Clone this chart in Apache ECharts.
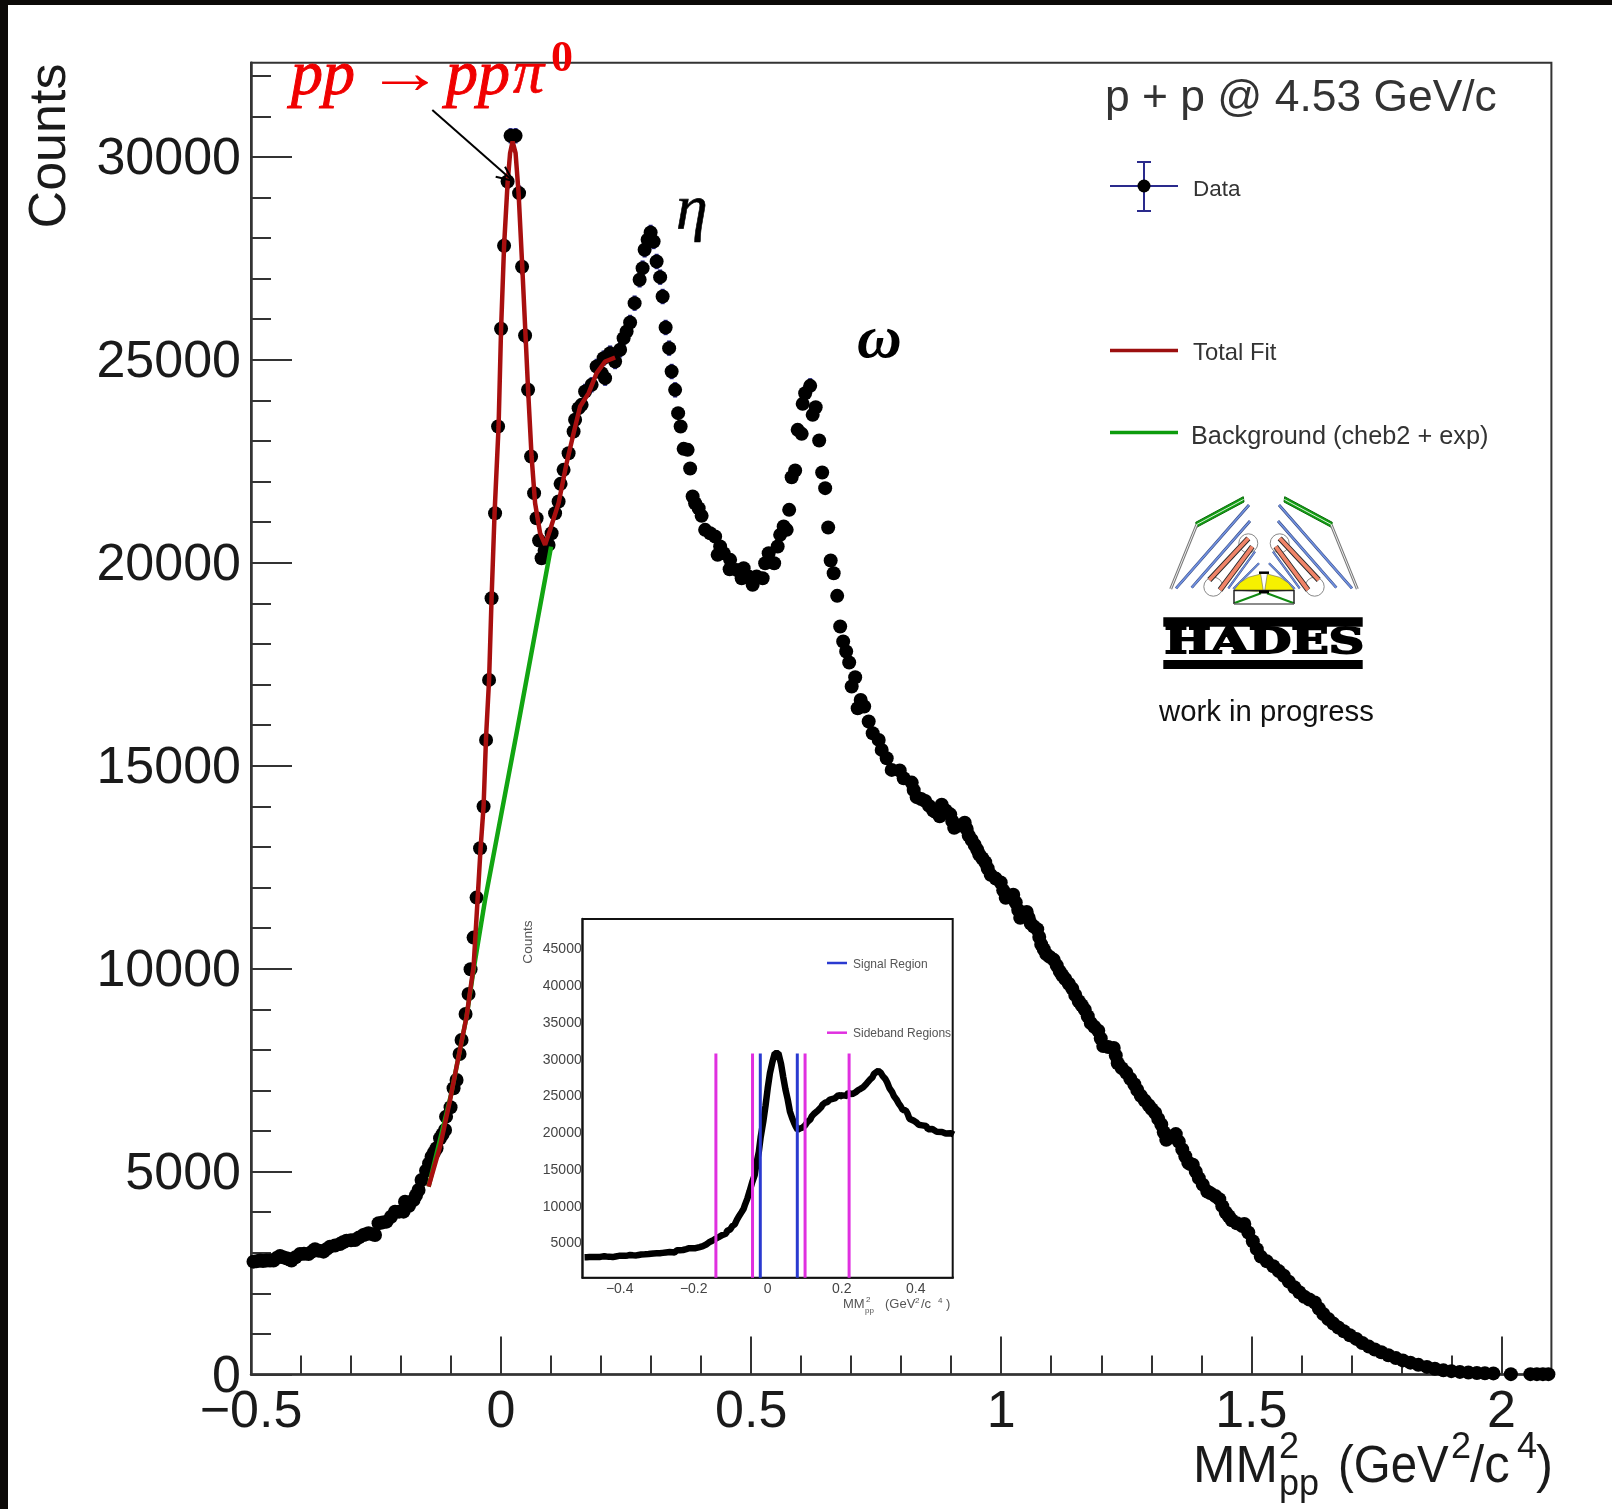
<!DOCTYPE html>
<html>
<head>
<meta charset="utf-8">
<title>MM2pp</title>
<style>
    html, body { margin: 0; padding: 0; background: #fff; }
    #chart { width: 1612px; height: 1509px; }
</style>
<script src="https://cdn.jsdelivr.net/npm/echarts@6/dist/echarts.min.js"></script>
</head>
<body>
<div id="chart"></div>
<script>
// data points
const dataX = [
    -0.495, -0.482, -0.469, -0.455, -0.442, -0.429, -0.419, -0.402, -0.385, -0.372,
    -0.355, -0.342, -0.322, -0.309, -0.292, -0.275, -0.265, -0.252, -0.245, -0.229,
    -0.212, -0.195, -0.192, -0.175, -0.165, -0.159, -0.150, -0.139, -0.129, -0.122,
    -0.112, -0.110, -0.101, -0.095, -0.089, -0.083, -0.079, -0.071, -0.065, -0.061,
    -0.055, -0.049, -0.042, -0.035, -0.030, -0.024, -0.019, -0.012, -0.006, 0.000,
    0.006, 0.013, 0.019, 0.029, 0.036, 0.042, 0.048, 0.054, 0.060, 0.066,
    0.071, 0.076, 0.081, 0.087, 0.095, 0.101, 0.108, 0.115, 0.119, 0.125,
    0.135, 0.145, 0.148, 0.155, 0.161, 0.168, 0.181, 0.191, 0.201, 0.205,
    0.208, 0.218, 0.228, 0.238, 0.245, 0.251, 0.258, 0.267, 0.277, 0.283,
    0.287, 0.293, 0.299, 0.305, 0.311, 0.318, 0.323, 0.329, 0.336, 0.341,
    0.348, 0.354, 0.359, 0.365, 0.373, 0.378, 0.383, 0.388, 0.395, 0.401,
    0.408, 0.418, 0.428, 0.433, 0.438, 0.445, 0.457, 0.458, 0.471, 0.481,
    0.485, 0.495, 0.503, 0.511, 0.523, 0.528, 0.535, 0.546, 0.553, 0.558,
    0.565, 0.571, 0.576, 0.581, 0.588, 0.593, 0.601, 0.603, 0.608, 0.618,
    0.623, 0.629, 0.636, 0.642, 0.648, 0.654, 0.659, 0.665, 0.672, 0.678,
    0.684, 0.690, 0.696, 0.701, 0.708, 0.713, 0.719, 0.726, 0.735, 0.743,
    0.755, 0.761, 0.771, 0.781, 0.797, 0.805, 0.821, 0.831, 0.848, 0.864,
    0.877, 0.881, 0.898, 0.906, 0.927, 0.935, 0.947, 0.956, 0.968, 0.979,
    0.999, 1.009, 1.024, 1.034, 1.038, 1.051, 1.059, 1.072, 1.080, 1.090,
    1.105, 1.117, 1.128, 1.142, 1.155, 1.167, 1.179, 1.194, 1.204, 1.225,
    1.233, 1.250, 1.266, 1.279, 1.295, 1.308, 1.320, 1.330, 1.349, 1.362,
    1.374, 1.383, 1.395, 1.412, 1.436, 1.449, 1.461, 1.482, 1.486, 1.503,
    1.519, 1.544, 1.565, 1.586, 1.606, 1.627, 1.644, 1.664, 1.685, 1.710,
    1.735, 1.760, 1.789, 1.818, 1.851, 1.884, 1.917, 1.951, 1.984, 2.019,
    2.058, 2.071, 2.083, 2.094,
];
const dataY = [
    2783, 2808, 2808, 2808, 2922, 2865, 2808, 2972, 2972, 3087,
    3029, 3152, 3218, 3300, 3317, 3440, 3481, 3440, 3727, 3768,
    4015, 4015, 4261, 4302, 4549, 4795, 5025, 5370, 5575, 5822,
    6027, 6355, 6586, 7054, 7259, 7900, 8245, 8885, 9378, 9986,
    10766, 11752, 12967, 13994, 15637, 17115, 19127, 21222, 23358, 25764,
    27809, 29394, 30520, 30520, 29107, 27292, 25600, 24261, 22618, 21715,
    21098, 20548, 20113, 20300, 20441, 20729, 21222, 21510, 21945, 22290,
    22700, 23234, 23522, 23810, 23891, 24220, 24384, 24836, 24672, 25041,
    24549, 25165, 24959, 25247, 25534, 25698, 25920, 26396, 26971, 27259,
    27710, 27957, 28138, 27916, 27423, 27037, 26560, 25797, 25288, 24712,
    24260, 23686, 23357, 22807, 22782, 22322, 21632, 21468, 21345, 21156,
    20811, 20729, 20647, 20195, 20400, 20236, 19842, 20072, 19825, 19620,
    19866, 19661, 19456, 19661, 19620, 19990, 20236, 19990, 20400, 20688,
    20893, 20811, 21304, 22108, 22273, 23275, 23176, 23916, 24178, 24359,
    23644, 23833, 23012, 22224, 21838, 20869, 20055, 19743, 19185, 18429,
    18060, 17813, 17542, 16951, 17181, 16417, 16622, 16458, 16088, 15801,
    15637, 15390, 15185, 14897, 14881, 14692, 14585, 14226, 14132, 13896,
    13755, 14038, 13802, 13472, 13594, 13283, 13047, 12812, 12623, 12312,
    12123, 11746, 11821, 11444, 11255, 11397, 11114, 10972, 10595, 10359,
    10218, 9934, 9746, 9510, 9199, 8991, 8661, 8472, 8095, 8048,
    7670, 7435, 7152, 6869, 6633, 6444, 6161, 5784, 5925, 5548,
    5218, 5171, 4841, 4510, 4322, 3992, 3803, 3662, 3709, 3284,
    2907, 2671, 2435, 2152, 1917, 1775, 1492, 1256, 1067, 879,
    690, 549, 407, 294, 190, 105, 67, 39, 30, 11,
    11, 11, 11, 11,
];
// further points read along the parts where the markers merge into a solid band
const bandX = [
    -0.489, -0.476, -0.462, -0.449, -0.436, -0.424, -0.411, -0.394, -0.378, -0.364,
    -0.349, -0.332, -0.316, -0.300, -0.284, -0.270, -0.258, -0.237, -0.220, -0.204,
    -0.184, -0.170, -0.144, -0.134, -0.117,
    0.825, 0.840, 0.856, 0.870, 0.889, 0.902, 0.916, 0.931, 0.941, 0.952,
    0.962, 0.973, 0.989, 1.004, 1.016, 1.029, 1.045, 1.055, 1.065, 1.076,
    1.085, 1.097, 1.111, 1.122, 1.135, 1.148, 1.161, 1.173, 1.186, 1.199,
    1.214, 1.229, 1.241, 1.258, 1.272, 1.287, 1.301, 1.314, 1.325, 1.339,
    1.355, 1.368, 1.378, 1.389, 1.403, 1.418, 1.428, 1.442, 1.455, 1.471,
    1.494, 1.511, 1.531, 1.555, 1.575, 1.596, 1.616, 1.635, 1.654, 1.674,
    1.697, 1.722, 1.747, 1.774, 1.803, 1.834, 1.867, 1.900, 1.934, 1.967,
];
const bandY = [
    2790, 2800, 2810, 2870, 2890, 2840, 2890, 2975, 3030, 3050,
    3090, 3180, 3260, 3310, 3380, 3460, 3460, 3750, 3890, 4015,
    4160, 4420, 5200, 5470, 5920,
    14400, 14180, 14010, 13850, 13900, 13640, 13530, 13440, 13170, 12930,
    12720, 12470, 12220, 11930, 11780, 11630, 11330, 11250, 11040, 10780,
    10480, 10290, 10080, 9840, 9630, 9350, 9100, 8830, 8570, 8280,
    8070, 7860, 7550, 7290, 7010, 6750, 6540, 6300, 5970, 5850,
    5740, 5380, 5190, 5000, 4680, 4470, 4400, 4150, 3900, 3730,
    3500, 3090, 2790, 2550, 2290, 2030, 1850, 1630, 1370, 1160,
    970, 780, 620, 475, 350, 240, 145, 85, 52, 34,
];
const errHalf = 190;
const errFrom = 24000;

// total fit
const fitX = [
    -0.145, -0.122, -0.102, -0.089, -0.069, -0.055, -0.047, -0.041, -0.035, -0.030,
    -0.024, -0.019, -0.013, -0.005, 0.000, 0.006, 0.013, 0.018, 0.023, 0.029,
    0.035, 0.042, 0.049, 0.054, 0.061, 0.068, 0.078, 0.088, 0.098, 0.115,
    0.131, 0.145, 0.158, 0.175, 0.191, 0.208, 0.228,
];
const fitY = [
    4631, 5616, 6766, 7588, 8820, 10051, 11694, 12967, 13994, 15719,
    17115, 19127, 21222, 23358, 25764, 27809, 29353, 30092, 30380, 30092,
    29107, 27382, 25575, 24261, 22618, 21469, 20729, 20442, 20811, 21469,
    22454, 23193, 23850, 24179, 24672, 24959, 25058,
];

// background fit
const bgX = [-0.145, -0.100, -0.069, -0.055, -0.032, 0.031, 0.100];
const bgY = [4631, 6900, 8820, 9970, 11694, 15800, 20400];

// inset region edges
const signalEdges = [-0.020, 0.080];
const sidebandEdges = [-0.140, -0.041, 0.101, 0.220];
const edgeTop = 30500;

const mainXMajor = [-0.5, 0, 0.5, 1, 1.5, 2];
const mainXMinor = [-0.4, -0.3, -0.2, -0.1, 0.1, 0.2, 0.3, 0.4, 0.6, 0.7, 0.8, 0.9, 1.1, 1.2, 1.3, 1.4, 1.6, 1.7, 1.8, 1.9];
const mainYMajor = [0, 5000, 10000, 15000, 20000, 25000, 30000];
const mainYMinor = [1000, 2000, 3000, 4000, 6000, 7000, 8000, 9000, 11000, 12000, 13000, 14000, 16000, 17000, 18000, 19000, 21000, 22000, 23000, 24000, 26000, 27000, 28000, 29000, 31000, 32000];
const insetXMajor = [-0.4, -0.2, 0, 0.2, 0.4];
const insetXMinor = [-0.45, -0.35, -0.3, -0.25, -0.15, -0.1, -0.05, 0.05, 0.1, 0.15, 0.25, 0.3, 0.35, 0.45];
const insetYMajor = [5000, 10000, 15000, 20000, 25000, 30000, 35000, 40000, 45000];
const insetYMinor = [];
for (let v = 1000; v < 48800; v += 1000) {
    if (v % 5000 !== 0) insetYMinor.push(v);
}

const SANS = '"Liberation Sans", Arial, sans-serif';
const SERIF = '"Liberation Serif", "DejaVu Serif", serif';
const AXIS_COLOR = "#333";
const minusFmt = (v) => String(v).replace("-", "\u2212");

function makeXAxis(gridIndex, min, max, ticks, len, width, labels) {
    return {
        type: "value",
        gridIndex,
        min,
        max,
        position: "bottom",
        splitLine: { show: false },
        axisLine: { show: !!labels, onZero: false, lineStyle: { color: AXIS_COLOR, width: width + 0.5 } },
        axisTick: { inside: true, length: len, customValues: ticks, lineStyle: { color: AXIS_COLOR, width } },
        axisLabel: labels
            ? { customValues: ticks, formatter: minusFmt, showMinLabel: true, showMaxLabel: true, hideOverlap: false, ...labels }
            : { show: false },
    };
}

function makeYAxis(gridIndex, min, max, ticks, len, width, labels) {
    return {
        type: "value",
        gridIndex,
        min,
        max,
        position: "left",
        splitLine: { show: false },
        axisLine: { show: !!labels, onZero: false, lineStyle: { color: AXIS_COLOR, width: width + 0.5 } },
        axisTick: { inside: true, length: len, customValues: ticks, lineStyle: { color: AXIS_COLOR, width } },
        axisLabel: labels
            ? { customValues: ticks, formatter: (v) => "{a|" + v + "}", showMinLabel: true, showMaxLabel: true, hideOverlap: false, ...labels }
            : { show: false },
    };
}

const mainLabel = { fontFamily: SANS, fontSize: 52, color: "#1a1a1a" };
const insetLabel = { fontFamily: SANS, fontSize: 14, color: "#444" };

const points = dataX.map((x, i) => [x, dataY[i]]);
const bandPoints = bandX.map((x, i) => [x, bandY[i]]);
const allPoints = points.concat(bandPoints).sort((a, b) => a[0] - b[0]);
const insetPoints = allPoints.filter((p) => p[0] <= 0.505);

// helpers for the hand drawn bits (texts, legend, detector sketch)
function txt(text, x, baseline, size, opts = {}) {
    return {
        type: "text",
        z: 50,
        x,
        y: baseline - size * 0.32,
        rotation: opts.rotation || 0,
        scaleX: opts.scaleX || 1,
        style: {
            text,
            fill: opts.fill || "#1a1a1a",
            stroke: opts.stroke,
            lineWidth: opts.lineWidth,
            font: (opts.weight || "") + " " + size + "px " + (opts.family || SANS),
            align: opts.align || "left",
            verticalAlign: "middle",
        },
    };
}

function seg(x1, y1, x2, y2, color, w) {
    return {
        type: "line",
        z: 40,
        shape: { x1, y1, x2, y2 },
        style: { stroke: color, lineWidth: w },
    };
}

function poly(pts, fill, stroke, w) {
    return {
        type: "polygon",
        z: 40,
        shape: { points: pts },
        style: { fill, stroke, lineWidth: w || 1 },
    };
}

const AXIS_MID = 1264;
const mx = (x) => 2 * AXIS_MID - x;

// one half of the detector, mirrored about the beam line
function halfLogo(f) {
    const out = [];
    // coils
    out.push({ type: "circle", z: 40, shape: { cx: f(1248.3), cy: 543.3, r: 9.5 }, style: { fill: "#fff", stroke: "#888", lineWidth: 1 } });
    out.push({ type: "circle", z: 40, shape: { cx: f(1213.3), cy: 586.7, r: 9.5 }, style: { fill: "#fff", stroke: "#888", lineWidth: 1 } });
    // tof strip
    out.push(poly([[f(1195.7), 522.3], [f(1243.3), 496.7], [f(1244), 502], [f(1196.7), 527.3]], "#14a014", "#0a6a0a", 1));
    out.push(seg(f(1196.2), 524.8, f(1243.7), 499.4, "#dff0df", 1));
    // outer grey
    out.push(seg(f(1196.7), 525, f(1170.7), 589, "#777", 3));
    out.push(seg(f(1196.7), 525, f(1170.7), 589, "#eee", 1));
    // drift chambers
    out.push(seg(f(1249), 505, f(1176), 588.3, "#33457a", 2.8));
    out.push(seg(f(1249), 505, f(1176), 588.3, "#7090e0", 1.8));
    out.push(seg(f(1250), 521, f(1191.7), 587.7, "#33457a", 2.8));
    out.push(seg(f(1250), 521, f(1191.7), 587.7, "#7090e0", 1.8));
    out.push(seg(f(1255), 551.7, f(1228.3), 588.3, "#33457a", 2.2));
    out.push(seg(f(1255), 551.7, f(1228.3), 588.3, "#7090e0", 1.4));
    out.push(seg(f(1259), 563.3, f(1233.3), 589, "#33457a", 2.2));
    out.push(seg(f(1259), 563.3, f(1233.3), 589, "#7090e0", 1.4));
    // magnet bars
    out.push(seg(f(1248.3), 538.3, f(1209.3), 580, "#222", 5.5));
    out.push(seg(f(1248.3), 538.3, f(1209.3), 580, "#f08468", 3.8));
    out.push(seg(f(1252.3), 546.7, f(1220), 590, "#222", 5.5));
    out.push(seg(f(1252.3), 546.7, f(1220), 590, "#f08468", 3.8));
    // rich dome
    out.push(poly([[f(1234), 590], [f(1240), 582.7], [f(1248.3), 577.3], [f(1260.7), 574], [f(1263.5), 592]], "#f6f000", "#666", 0.6));
    out.push(seg(f(1261), 593.3, f(1234), 603.3, "#118a11", 2));
    return out;
}

const logo = [
    ...halfLogo((x) => x),
    ...halfLogo(mx),
    seg(1234, 590.5, 1294, 590.5, "#222", 1.5),
    seg(1234, 590, 1234, 604, "#222", 1.5),
    seg(1294, 590, 1294, 604, "#222", 1.5),
    seg(1234, 604, 1294, 604, "#666", 1.5),
    seg(1259, 572.7, 1269, 572.7, "#000", 2.5),
    seg(1259, 592, 1269, 592, "#000", 3),
    { type: "rect", z: 40, shape: { x: 1163.3, y: 617.3, width: 199.4, height: 9.4 }, style: { fill: "#000" } },
    { type: "rect", z: 40, shape: { x: 1163.3, y: 660, width: 199.4, height: 9 }, style: { fill: "#000" } },
    txt("HADES", 1164.5, 655, 35, { family: '"DejaVu Serif", serif', weight: "bold", fill: "#000", stroke: "#000", lineWidth: 1.8, scaleX: 1.4 }),
];

const legendBits = [
    // Data
    seg(1110, 186, 1178, 186, "#2a2a8c", 2),
    seg(1144, 162, 1144, 211, "#2a2a8c", 2),
    seg(1137, 162, 1151, 162, "#2a2a8c", 2),
    seg(1137, 211, 1151, 211, "#2a2a8c", 2),
    { type: "circle", z: 41, shape: { cx: 1144, cy: 186, r: 6.5 }, style: { fill: "#000" } },
    txt("Data", 1193, 197, 22.5, { fill: "#333" }),
    // Total fit
    seg(1110, 350.5, 1178, 350.5, "#9c0f0f", 3.5),
    txt("Total Fit", 1193, 361, 23.8, { fill: "#333" }),
    // Background
    seg(1110, 432.5, 1178, 432.5, "#0c9c0c", 3.5),
    txt("Background (cheb2 + exp)", 1191, 445, 25.3, { fill: "#333" }),
    txt("p + p @ 4.53 GeV/c", 1105, 113, 44.4, { fill: "#333" }),
    txt("work in progress", 1159, 722, 29.3, { fill: "#111" }),
];

const annotations = [
    txt("pp", 291, 98, 64, { fill: "#f00000", stroke: "#f00000", lineWidth: 1, family: SERIF, weight: "italic" }),
    txt("\u2192", 366, 97, 62, { fill: "#f00000", family: SERIF, scaleX: 1.25 }),
    txt("pp", 446, 98, 64, { fill: "#f00000", stroke: "#f00000", lineWidth: 1, family: SERIF, weight: "italic" }),
    txt("\u03c0", 513, 96, 62, { fill: "#f00000", stroke: "#f00000", lineWidth: 0.6, family: SERIF, weight: "italic" }),
    txt("0", 551, 74, 44, { fill: "#f00000", family: SERIF, weight: "bold" }),
    txt("\u03b7", 676, 232, 64, { fill: "#000", stroke: "#000", lineWidth: 0.6, family: SERIF, weight: "italic" }),
    txt("\u03c9", 857, 361, 62, { fill: "#000", family: SERIF, weight: "italic bold" }),
    seg(432.3, 110, 512.7, 180.7, "#000", 2),
    seg(505, 166.7, 512.7, 180.7, "#000", 2),
    seg(495.7, 176.7, 512.7, 180.7, "#000", 2),
];

const axisTitles = [
    txt("Counts", 51, 146 + 52 * 0.32, 52, { rotation: Math.PI / 2, align: "center" }),
    txt("MM", 1193, 1484, 51),
    txt("2", 1279, 1460, 36),
    txt("pp", 1279, 1497, 36),
    txt("(GeV", 1338, 1484, 51, { scaleX: 0.93 }),
    txt("2", 1451, 1460, 36),
    txt("/c", 1470, 1484, 51),
    txt("4", 1517, 1460, 36),
    txt(")", 1536, 1484, 51),
    // inset titles
    txt("Counts", 528, 942 + 13.7 * 0.32, 13.7, { rotation: Math.PI / 2, align: "center", fill: "#555" }),
    txt("MM", 843, 1309, 13, { fill: "#555" }),
    txt("2", 866, 1302, 8, { fill: "#555" }),
    txt("pp", 865, 1313, 8, { fill: "#555" }),
    txt("(GeV", 885, 1309, 13, { fill: "#555" }),
    txt("2", 915, 1303, 8, { fill: "#555" }),
    txt("/c", 921, 1309, 13, { fill: "#555" }),
    txt("4", 938, 1303, 8, { fill: "#555" }),
    txt(")", 946, 1309, 13, { fill: "#555" }),
    seg(827, 963, 847, 963, "#2a3ad0", 2.5),
    txt("Signal Region", 853, 969, 12, { fill: "#555" }),
    seg(827, 1032.7, 847, 1032.7, "#e030e0", 2.5),
    txt("Sideband Regions", 853, 1038, 12, { fill: "#555" }),
];

const frame = [
    { type: "rect", z: 60, shape: { x: 0, y: 0, width: 1612, height: 5 }, style: { fill: "#0c0a08" } },
    { type: "rect", z: 60, shape: { x: 0, y: 0, width: 8, height: 1509 }, style: { fill: "#0c0a08" } },
];

const option = {
    backgroundColor: "#fff",
    animation: false,
    grid: [
        { left: 251, top: 62.7, width: 1300.4, height: 1311.9, show: true, borderColor: AXIS_COLOR, borderWidth: 2, backgroundColor: "transparent", containLabel: false },
        { left: 582.7, top: 919, width: 370, height: 358.7, show: true, borderColor: "#111", borderWidth: 2, backgroundColor: "#fff", z: 5, containLabel: false },
    ],
    xAxis: [
        makeXAxis(0, -0.5, 2.1, mainXMajor, 38, 2, { ...mainLabel, margin: 12 }),
        makeXAxis(0, -0.5, 2.1, mainXMinor, 19, 2),
        makeXAxis(1, -0.5, 0.5, insetXMajor, 11, 2, { ...insetLabel, margin: 4 }),
        makeXAxis(1, -0.5, 0.5, insetXMinor, 5, 1.5),
    ],
    yAxis: [
        makeYAxis(0, 0, 32320, mainYMajor, 41, 2, { margin: 10, rich: { a: { ...mainLabel, padding: [6, 0, 0, 0] } } }),
        makeYAxis(0, 0, 32320, mainYMinor, 20, 2),
        makeYAxis(1, 0, 48800, insetYMajor, 10, 2, { margin: 1, rich: { a: { ...insetLabel, padding: [5, 0, 0, 0] } } }),
        makeYAxis(1, 0, 48800, insetYMinor, 5, 1.5),
    ],
    graphic: { elements: [...axisTitles, ...annotations, ...legendBits, ...logo, ...frame] },
    series: [
        // error bars, only stick out of the markers near the peaks
        {
            type: "custom",
            xAxisIndex: 0,
            yAxisIndex: 0,
            clip: false,
            z: 3,
            data: points.filter((p) => p[1] > errFrom),
            renderItem: (params, api) => {
                const top = api.coord([api.value(0), api.value(1) + errHalf]);
                const bot = api.coord([api.value(0), api.value(1) - errHalf]);
                return {
                    type: "line",
                    shape: { x1: top[0], y1: top[1], x2: bot[0], y2: bot[1] },
                    style: { stroke: "#2a2a8c", lineWidth: 4 },
                };
            },
        },
        {
            name: "Data",
            type: "scatter",
            xAxisIndex: 0,
            yAxisIndex: 0,
            clip: false,
            z: 4,
            symbol: "circle",
            symbolSize: 14,
            itemStyle: { color: "#000", opacity: 1 },
            data: allPoints,
        },
        {
            name: "Background (cheb2 + exp)",
            type: "line",
            xAxisIndex: 0,
            yAxisIndex: 0,
            z: 5,
            showSymbol: false,
            lineStyle: { color: "#12a512", width: 4.5 },
            data: bgX.map((x, i) => [x, bgY[i]]),
        },
        {
            name: "Total Fit",
            type: "line",
            xAxisIndex: 0,
            yAxisIndex: 0,
            z: 6,
            showSymbol: false,
            lineStyle: { color: "#a80f0f", width: 4.5 },
            data: fitX.map((x, i) => [x, fitY[i]]),
        },
        // inset
        {
            type: "line",
            xAxisIndex: 2,
            yAxisIndex: 2,
            z: 10,
            showSymbol: false,
            clip: true,
            lineStyle: { color: "#000", width: 6.5 },
            data: insetPoints,
        },
        ...sidebandEdges.map((x) => ({
            type: "line",
            xAxisIndex: 2,
            yAxisIndex: 2,
            z: 11,
            showSymbol: false,
            lineStyle: { color: "#e030e0", width: 3 },
            data: [[x, 0], [x, edgeTop]],
        })),
        ...signalEdges.map((x) => ({
            type: "line",
            xAxisIndex: 2,
            yAxisIndex: 2,
            z: 11,
            showSymbol: false,
            lineStyle: { color: "#2a3ad0", width: 3 },
            data: [[x, 0], [x, edgeTop]],
        })),
    ],
};

const myChart = echarts.init(document.getElementById("chart"));
myChart.setOption(option);
</script>
</body>
</html>
